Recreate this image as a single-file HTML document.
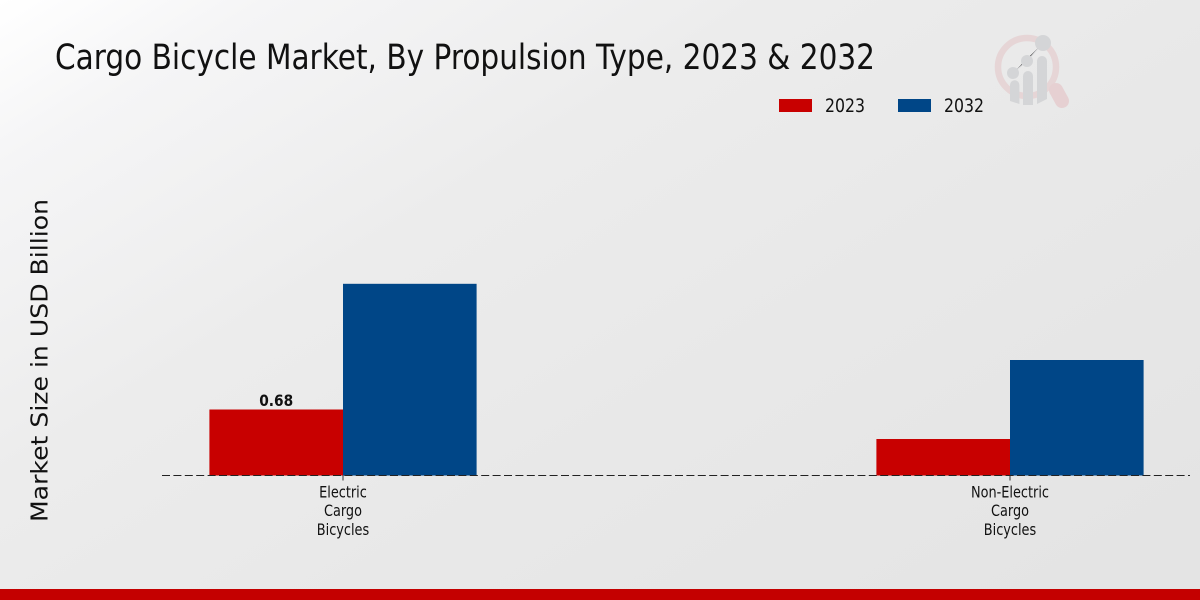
<!DOCTYPE html>
<html lang="en">
<head>
<meta charset="utf-8">
<title>Cargo Bicycle Market</title>
<style>
html,body{margin:0;padding:0;width:1200px;height:600px;overflow:hidden}
svg{display:block}
text{font-family:"DejaVu Sans","Liberation Sans",sans-serif;fill:#111}
</style>
</head>
<body>
<svg id="chart" width="1200" height="600" viewBox="0 0 1200 600" xmlns="http://www.w3.org/2000/svg">
  <defs>
    <linearGradient id="bg" gradientUnits="userSpaceOnUse" x1="0" y1="0" x2="620" y2="1000">
      <stop offset="0" stop-color="#ffffff"/>
      <stop offset="0.12" stop-color="#f5f5f6"/>
      <stop offset="0.35" stop-color="#ececec"/>
      <stop offset="0.6" stop-color="#e8e8e8"/>
      <stop offset="1" stop-color="#e3e3e3"/>
    </linearGradient>
  </defs>
  <rect x="0" y="0" width="1200" height="600" fill="url(#bg)"/>
  <rect x="0" y="589" width="1200" height="11" fill="#c40000"/>

  <g>
    <circle cx="1027" cy="67" r="29" fill="none" stroke="#e6d5d6" stroke-width="6.5"/>
    <path d="M1056 90 L1062 101" stroke="#e6d0d2" stroke-width="14" stroke-linecap="round"/>
    <path d="M1013 73 L1027 61 L1043 43" stroke="#dcdcde" stroke-width="1"/>
    <circle cx="1013" cy="73" r="6" fill="#d4d5d7"/>
    <circle cx="1027" cy="61" r="6" fill="#d4d5d7"/>
    <circle cx="1043" cy="43" r="8" fill="#d4d5d7"/>
    <path d="M1010 101 V85 a4.7 4.7 0 0 1 9.4 0 V104 Z" fill="#d4d5d7"/>
    <path d="M1023 105 V76 a5 5 0 0 1 10 0 V105 Z" fill="#d4d5d7"/>
    <path d="M1037 104 V61 a5 5 0 0 1 10 0 V99 Z" fill="#d4d5d7"/>
  </g>

  <text x="55" y="69" font-size="35" textLength="820" lengthAdjust="spacingAndGlyphs">Cargo Bicycle Market, By Propulsion Type, 2023 &amp; 2032</text>

  <text transform="translate(47.5,522) rotate(-90)" x="0" y="0" font-size="23.5" textLength="323" lengthAdjust="spacingAndGlyphs">Market Size in USD Billion</text>

  <g id="legend"></g>
  <g id="bars"></g>
  <g id="axis"></g>
  <g id="labels"></g>
</svg>
<script>
const categories = [["Electric","Cargo","Bicycles"],["Non-Electric","Cargo","Bicycles"]];
const seriesNames = ["2023","2032"];
const values2023 = [0.68,0.376];
const values2032 = [1.975,1.19];
const printedLabels2023 = ["0.68",""];
const seriesColors = ["#c80000","#004687"];
const allSeries = [values2023,values2032];

const NS = "http://www.w3.org/2000/svg";
const baseY = 475.5;
const pxPerUnit = 97.06;
const firstCenter = 343;
const groupStep = 667;
const barWidth = 133.6;
const yScale = v => baseY - v * pxPerUnit;
const xCenter = i => firstCenter + i * groupStep;

function make(tag, parent, attrs){
  const el = document.createElementNS(NS, tag);
  for (const k in attrs) el.setAttribute(k, attrs[k]);
  parent.appendChild(el);
  return el;
}
const barsG = document.getElementById("bars");
const axisG = document.getElementById("axis");
const labelsG = document.getElementById("labels");
const legendG = document.getElementById("legend");

allSeries.forEach((vals, s) => {
  vals.forEach((v, i) => {
    const x = xCenter(i) + (s === 0 ? -barWidth : 0);
    const r = make("rect", barsG, {x:x, y:yScale(v), width:barWidth, height:baseY - yScale(v), fill:seriesColors[s]});
    
    
  });
});

const axisLine = make("line", axisG, {x1:162, x2:1190, y1:baseY, y2:baseY, stroke:"#222", "stroke-width":1, "stroke-dasharray":"8 3.4"});



categories.forEach((lines, i) => {
  const cx = xCenter(i);
  const tick = make("line", axisG, {x1:cx, x2:cx, y1:baseY, y2:baseY + 5, stroke:"#333", "stroke-width":1});
  
  
  lines.forEach((line, j) => {
    const t = make("text", axisG, {x:cx, y:497.5 + j * 18.7, "font-size":16, "text-anchor":"middle", transform:`translate(${cx} 0) scale(0.805 1) translate(${-cx} 0)`});
    t.textContent = line;
    
    
  });
});

printedLabels2023.forEach((label, i) => {
  if (!label) return;
  const cx = xCenter(i) - barWidth / 2;
  const t = make("text", labelsG, {x:cx, y:yScale(values2023[i]) - 3.5, "font-size":16, "font-weight":"bold", "text-anchor":"middle", transform:`translate(${cx} 0) scale(0.86 1) translate(${-cx} 0)`});
  t.textContent = label;
  
  
});

seriesNames.forEach((name, s) => {
  const x = 779 + s * 119;
  const sw = make("rect", legendG, {x:x, y:99, width:33, height:13, fill:seriesColors[s]});
  
  
  const t = make("text", legendG, {x:x + 46, y:112, "font-size":19, textLength:40, lengthAdjust:"spacingAndGlyphs"});
  t.textContent = name;
  
  
});
</script>
</body>
</html>
